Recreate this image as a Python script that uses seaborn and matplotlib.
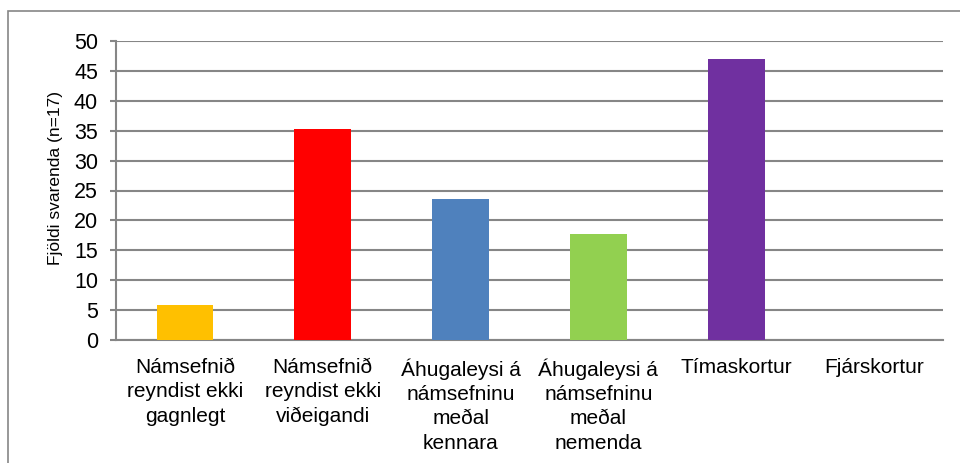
import matplotlib
matplotlib.use("Agg")
import matplotlib.pyplot as plt
import seaborn as sns
import pandas as pd
from matplotlib.patches import Rectangle
from matplotlib import font_manager

categories = [
    "Námsefnið\nreyndist ekki\ngagnlegt",
    "Námsefnið\nreyndist ekki\nviðeigandi",
    "Áhugaleysi á\nnámsefninu\nmeðal\nkennara",
    "Áhugaleysi á\nnámsefninu\nmeðal\nnemenda",
    "Tímaskortur",
    "Fjárskortur",
]
values = [5.88, 35.29, 23.53, 17.65, 47.06, 0.0]
colors = ["#FFC000", "#FF0000", "#4F81BD", "#92D050", "#7030A0", "#4BACC6"]
yticks = [0, 5, 10, 15, 20, 25, 30, 35, 40, 45, 50]
ylabel = "Fjöldi svarenda (n=17)"

sns.set_theme(style="white")
plt.rcParams["font.family"] = ["Liberation Sans", "DejaVu Sans"]

names = {f.name for f in font_manager.fontManager.ttflist}
if "Liberation Sans Narrow" in names:
    ylab_family = ["Liberation Sans Narrow", "Liberation Sans"]
    ylab_size = 14.5
else:
    ylab_family = ["Liberation Sans", "DejaVu Sans"]
    ylab_size = 12.5

df = pd.DataFrame({"cat": categories, "val": values})

fig = plt.figure(figsize=(9.6, 4.63), dpi=100)
W, H = 960, 463
ax = fig.add_axes([116 / W, 1 - 340 / H, (943 - 116) / W, (340 - 41) / H])

sns.barplot(data=df, x="cat", y="val", hue="cat", palette=colors, legend=False,
            width=0.41, saturation=1, linewidth=0, ax=ax, zorder=3)

ax.set_ylim(0, 50)
ax.set_xlim(-0.5, len(categories) - 0.5)
ax.set_yticks(yticks)
ax.set_yticklabels([str(t) for t in yticks], fontsize=15.5, color="black")
ax.set_xticks(range(len(categories)))
ax.set_xticklabels(categories, fontsize=15, color="black", linespacing=1.36, va="top")
ax.tick_params(axis="x", length=0, pad=13)
ax.tick_params(axis="y", length=4.5, width=1.5, color="#868686", direction="out", pad=8.5, left=True)
ax.grid(axis="y", color="#868686", linewidth=1.5, zorder=0)
ax.set_axisbelow(True)
for s in ["top", "right"]:
    ax.spines[s].set_visible(False)
for s in ["left", "bottom"]:
    ax.spines[s].set_color("#868686")
    ax.spines[s].set_linewidth(1.5)
ax.set_xlabel("")
ax.set_ylabel(ylabel, fontsize=ylab_size, family=ylab_family, color="black", va="center")
ax.yaxis.set_label_coords(-(116 - 56) / (943 - 116), (340 - 178) / (340 - 41))

fig.patches.append(Rectangle((8 / W, -0.1), 1.2, 1 - 11 / H + 0.1, transform=fig.transFigure,
                             fill=False, edgecolor="#868686", linewidth=1.2))

fig.savefig("out.png", dpi=100)
